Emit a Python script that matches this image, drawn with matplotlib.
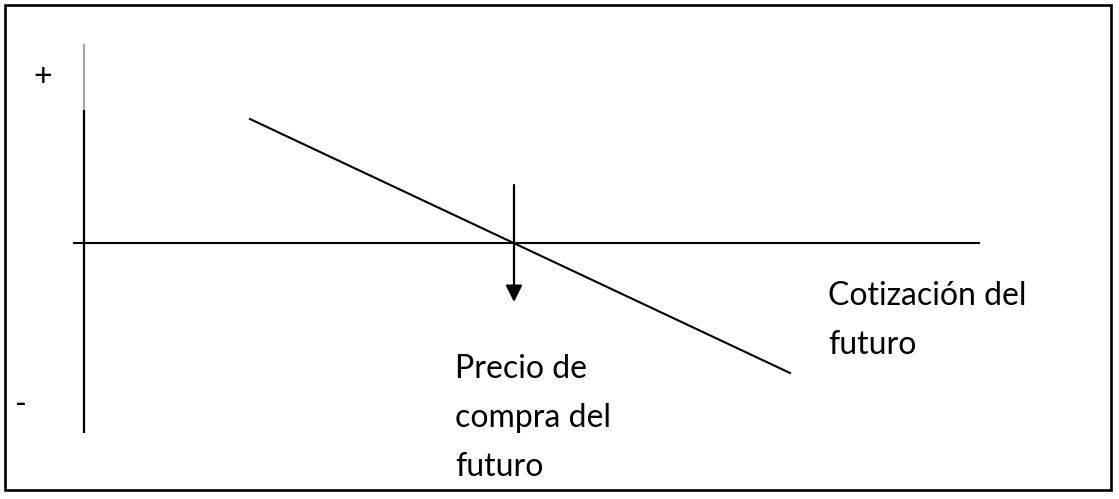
import matplotlib.pyplot as plt
from matplotlib.patches import Rectangle

# everything in pixel units of the original drawing (y grows downwards)
payoff_x = [250, 790]
payoff_y = [119, 373]

axis_h_x = [73, 980]
axis_h_y = [243, 243]

axis_v_top_x = [84, 84]
axis_v_top_y = [44, 110]
axis_v_x = [84, 84]
axis_v_y = [110, 433]

arrow_x = 514
arrow_from = 185
arrow_to = 302

label_quote = ["Cotización del", "futuro"]
label_price = ["Precio de", "compra del", "futuro"]

fig = plt.figure(figsize=(11.19, 4.99), dpi=100)
ax = fig.add_axes([0, 0, 1, 1])
ax.set_xlim(0, 1119)
ax.set_ylim(499, 0)
ax.axis('off')

ax.add_patch(Rectangle((5, 5), 1106, 485, fill=False, lw=1.9, ec='black'))

ax.plot(axis_v_top_x, axis_v_top_y, color='#a6a6a6', lw=1.6, solid_capstyle='butt')
ax.plot(axis_v_x, axis_v_y, color='black', lw=1.6, solid_capstyle='butt')
ax.plot(axis_h_x, axis_h_y, color='black', lw=1.5, solid_capstyle='butt')
ax.plot(payoff_x, payoff_y, color='black', lw=1.5)

ax.annotate('', xy=(arrow_x, arrow_to), xytext=(arrow_x, arrow_from),
            arrowprops=dict(arrowstyle='-|>,head_width=0.5,head_length=1.0',
                            lw=1.6, color='black', shrinkA=0, shrinkB=0))

font = dict(family='Lato', fontsize=23, color='black', va='baseline', ha='left')
ax.text(33, 86, '+', **font)
ax.text(15, 414, '-', **font)
for i, s in enumerate(label_quote):
    ax.text(828, 305 + 49 * i, s, **font)
for i, s in enumerate(label_price):
    ax.text(455, 378 + 49 * i, s, **font)

fig.savefig('out.png', dpi=100)
